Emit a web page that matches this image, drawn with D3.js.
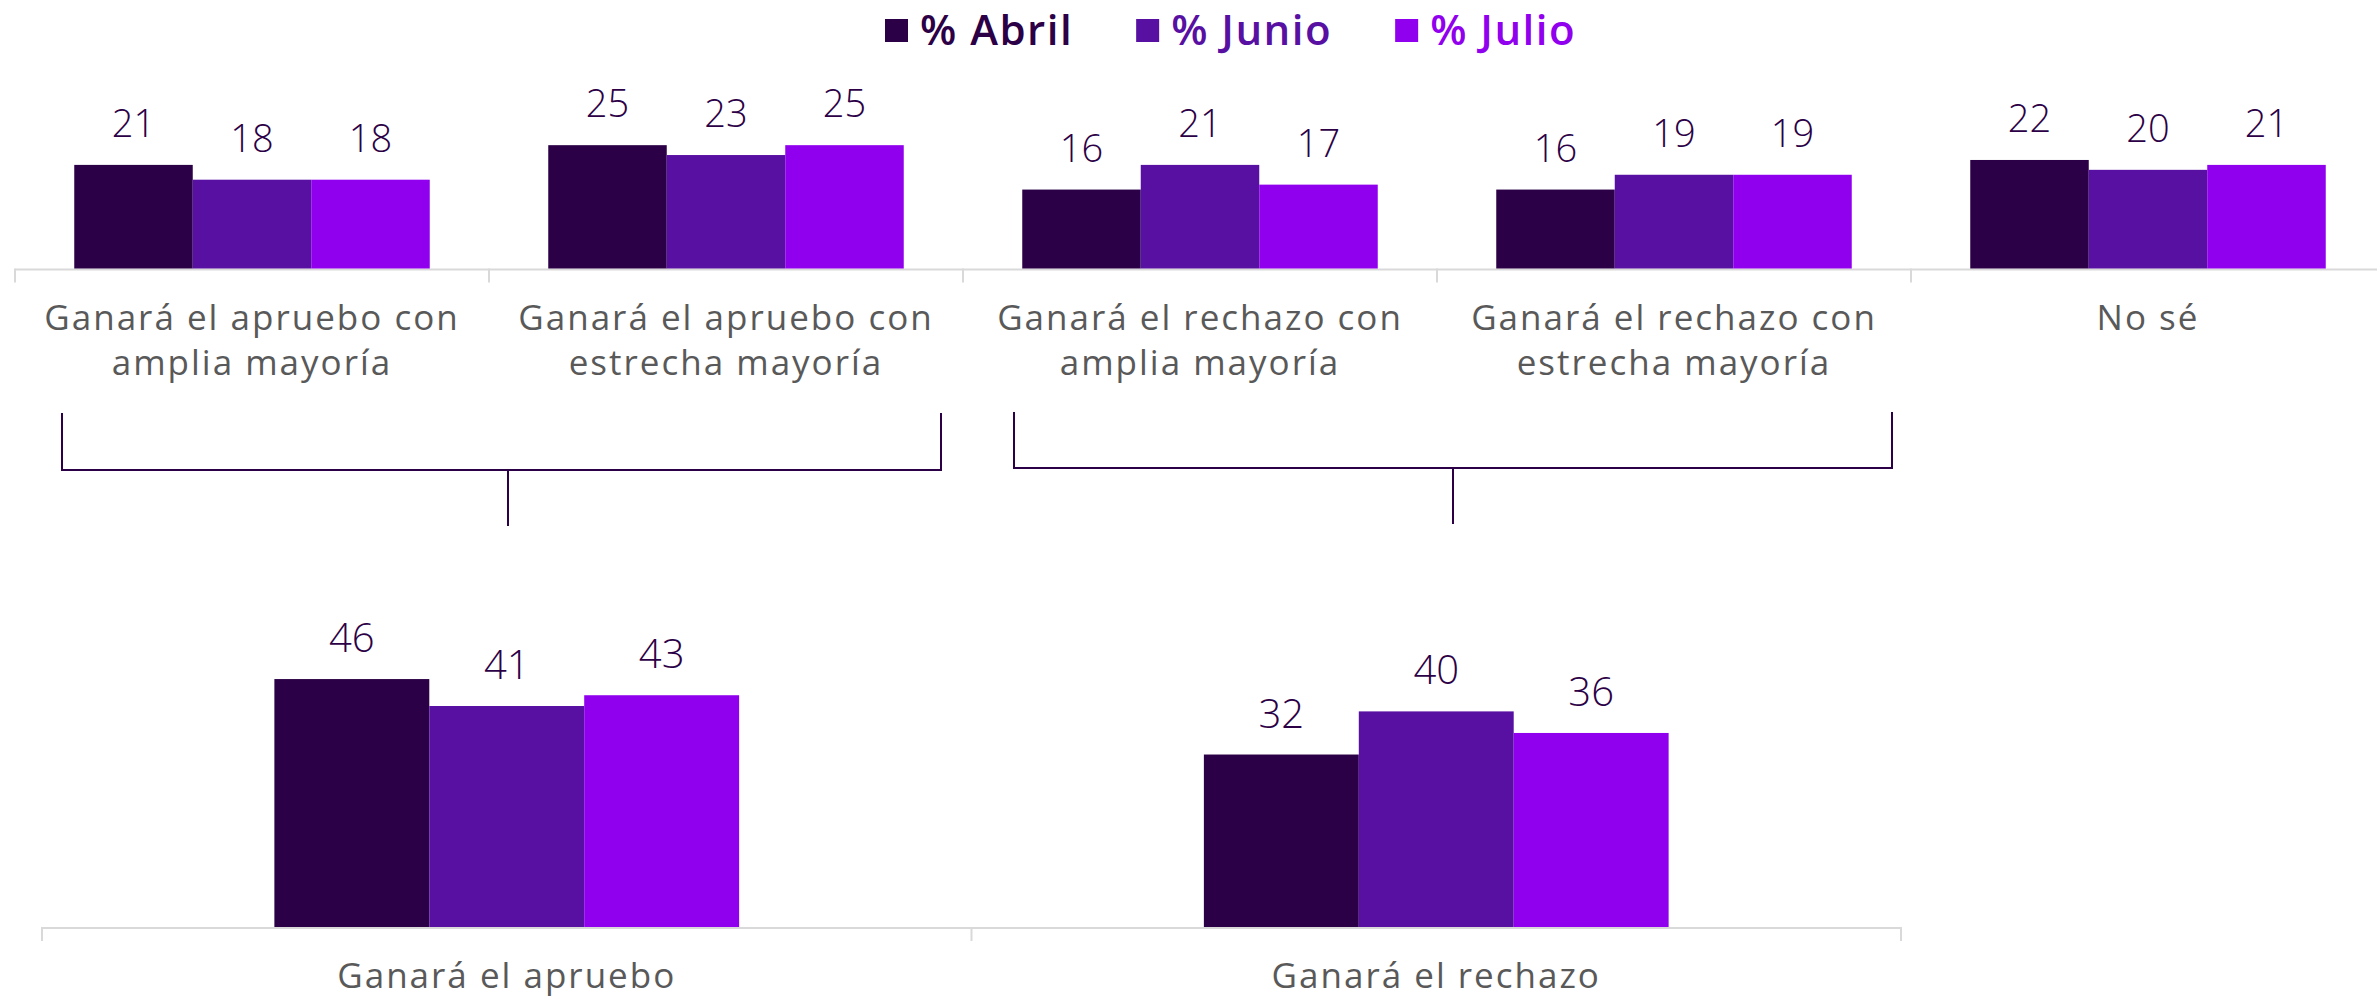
<!DOCTYPE html>
<html>
<head>
<meta charset="utf-8">
<script src="https://cdn.jsdelivr.net/npm/d3@7"></script>
<style>
  body { margin: 0; background: #fff; }
  svg { display: block; }
</style>
</head>
<body>
<svg width="2377" height="997"></svg>
<script>
// data
var series = ["% Abril", "% Junio", "% Julio"];
var topCats = ["aprueboAmplia", "aprueboEstrecha", "rechazoAmplia", "rechazoEstrecha", "noSe"];
var topLabels = [
  ["Ganará el apruebo con", "amplia mayoría"],
  ["Ganará el apruebo con", "estrecha mayoría"],
  ["Ganará el rechazo con", "amplia mayoría"],
  ["Ganará el rechazo con", "estrecha mayoría"],
  ["No sé"]
];
var abrilTop = [21, 25, 16, 16, 22];
var junioTop = [18, 23, 21, 19, 20];
var julioTop = [18, 25, 17, 19, 21];

var bottomCats = ["apruebo", "rechazo"];
var bottomLabels = ["Ganará el apruebo", "Ganará el rechazo"];
var abrilBottom = [46, 32];
var junioBottom = [41, 40];
var julioBottom = [43, 36];

var colors = ["#2c0046", "#5810a2", "#9100ee"];
var svg = d3.select("svg");

var numFont = "'Open Sans', sans-serif",
    catFont = "'Open Sans', sans-serif",
    axisColor = "#d9d9d9",
    labelColor = "#595959",
    valueColor = "#2c0046";

// legend
var legend = svg.append("g");
var lx = 885;
series.forEach(function (s, i) {
  legend.append("rect")
      .attr("x", lx).attr("y", 19)
      .attr("width", 23).attr("height", 23)
      .style("fill", colors[i]);
  var t = legend.append("text")
      .attr("x", lx + 35).attr("y", 45)
      .attr("font-family", catFont)
      .attr("font-weight", 600)
      .attr("font-size", 42)
      .attr("letter-spacing", 1.5)
      .attr("fill", colors[i])
      .text(s);
  lx = lx + 35 + t.node().getComputedTextLength() + 63;
});

function drawChart(opts) {
  var g = svg.append("g");
  var x0 = d3.scaleBand().domain(opts.cats).range(opts.xRange);
  var x1 = d3.scaleBand().domain(series).range([0, x0.bandwidth()]).paddingOuter(opts.pad);
  var y = d3.scaleLinear().domain([0, opts.max]).range([opts.base, opts.base - opts.h]);
  var values = [opts.a, opts.b, opts.c];

  // axis line + boundary ticks
  g.append("line")
      .attr("x1", opts.xRange[0]).attr("x2", opts.axisEnd)
      .attr("y1", opts.base + 1).attr("y2", opts.base + 1)
      .style("stroke", axisColor).style("stroke-width", 2);
  var bounds = opts.cats.map(function (c) { return x0(c); }).concat([opts.xRange[1]]);
  bounds.forEach(function (bx) {
    g.append("line")
        .attr("x1", bx).attr("x2", bx)
        .attr("y1", opts.base).attr("y2", opts.base + 14)
        .style("stroke", axisColor).style("stroke-width", 2);
  });

  opts.cats.forEach(function (c, ci) {
    series.forEach(function (s, si) {
      var v = values[si][ci];
      var bx = x0(c) + x1(s);
      g.append("rect")
          .attr("x", bx).attr("y", y(v))
          .attr("width", x1.bandwidth()).attr("height", y(0) - y(v))
          .style("fill", colors[si]);
      g.append("text")
          .attr("x", bx + x1.bandwidth() / 2)
          .attr("y", y(v) - opts.gap)
          .attr("text-anchor", "middle")
          .attr("font-family", numFont)
          .attr("font-weight", 300)
          .attr("font-size", opts.numSize)
          .attr("fill", valueColor)
          .text(v);
    });
    var lines = opts.labels[ci];
    if (typeof lines === "string") lines = [lines];
    lines.forEach(function (ln, li) {
      g.append("text")
          .attr("x", x0(c) + x0.bandwidth() / 2)
          .attr("y", opts.labelY + li * 45)
          .attr("text-anchor", "middle")
          .attr("font-family", catFont)
          .attr("font-weight", 500)
          .attr("font-size", 35)
          .attr("letter-spacing", 2)
          .attr("fill", labelColor)
          .text(ln);
    });
  });
}

drawChart({
  cats: topCats, labels: topLabels, a: abrilTop, b: junioTop, c: julioTop,
  xRange: [15, 15 + 5 * 474], axisEnd: 2377, pad: 0.5,
  max: 30, base: 268.5, h: 148, gap: 28, numSize: 38, labelY: 330
});

drawChart({
  cats: bottomCats, labels: bottomLabels, a: abrilBottom, b: junioBottom, c: julioBottom,
  xRange: [42, 1901], axisEnd: 1901, pad: 1.5,
  max: 50, base: 927, h: 269.5, gap: 27, numSize: 40, labelY: 988
});

// group brackets
var brackets = [
  { x1: 62, x2: 941, y1: 413, y2: 470, stem: 508, stemEnd: 526 },
  { x1: 1014, x2: 1892, y1: 412, y2: 468, stem: 1453, stemEnd: 524 }
];
var bracketStyle = { "stroke": "#2c0046", "stroke-width": 2, "fill": "none" };
brackets.forEach(function (b) {
  var p = "M " + b.x1 + " " + b.y1 + " L " + b.x1 + " " + b.y2 +
          " L " + b.x2 + " " + b.y2 + " L " + b.x2 + " " + b.y1 +
          " M " + b.stem + " " + b.y2 + " L " + b.stem + " " + b.stemEnd;
  var path = svg.append("path").attr("d", p);
  Object.keys(bracketStyle).forEach(function (k) { path.style(k, bracketStyle[k]); });
});
</script>
</body>
</html>
